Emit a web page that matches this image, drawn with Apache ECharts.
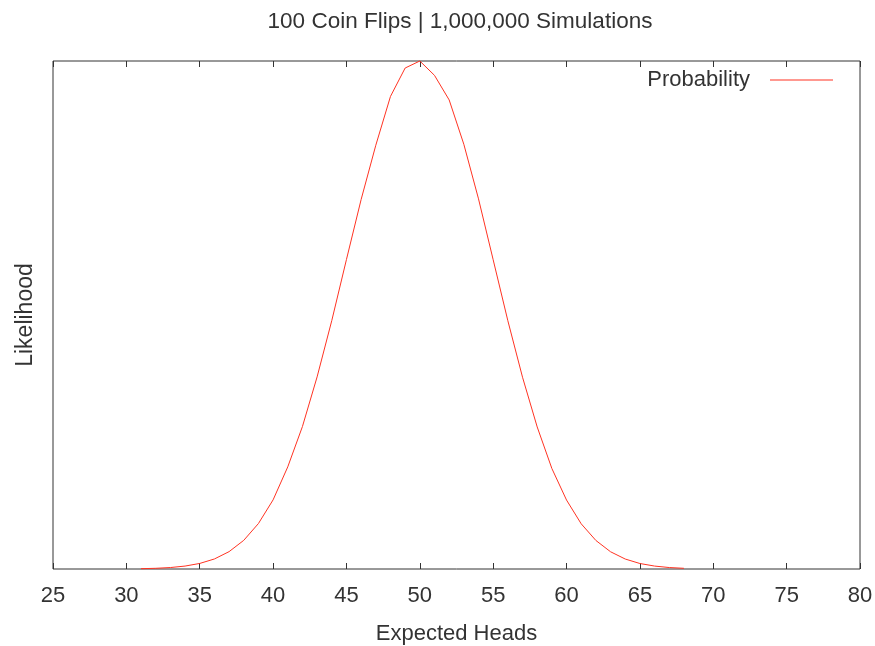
<!DOCTYPE html>
<html>
<head>
<meta charset="utf-8">
<script src="https://cdn.jsdelivr.net/npm/echarts@6/dist/echarts.min.js"></script>
<style>
  html, body { margin: 0; padding: 0; background: #fff; }
  #chart { width: 875px; height: 646px; }
</style>
</head>
<body>
<div id="chart"></div>
<script>
// number of heads out of 100 flips
const heads = [31, 32, 33, 34, 35, 36, 37, 38, 39, 40,
    41, 42, 43, 44, 45, 46, 47, 48, 49, 50,
    51, 52, 53, 54, 55, 56, 57, 58, 59, 60,
    61, 62, 63, 64, 65, 66, 67, 68];
// share of the 1,000,000 simulations
const likelihood = [0.00005, 0.00011, 0.00023, 0.00046, 0.00087, 0.00157, 0.00272, 0.00449, 0.00712, 0.01083,
    0.01600, 0.02232, 0.03010, 0.03893, 0.04850, 0.05790, 0.06640, 0.07405, 0.07850, 0.07960,
    0.07735, 0.07350, 0.06655, 0.05800, 0.04845, 0.03890, 0.03005, 0.02226, 0.01575, 0.01080,
    0.00708, 0.00447, 0.00270, 0.00156, 0.00086, 0.00046, 0.00023, 0.00011];
const xTicks = [25, 80, 5]; // min, max, step

const font = 'Liberation Sans, Arial, sans-serif';
const ink = '#333';
const red = '#ff3322';

const chart = echarts.init(document.getElementById('chart'));
const points = heads.map((h, i) => [h, likelihood[i]]);

const option = {
    animation: false,
    title: {
        text: '100 Coin Flips | 1,000,000 Simulations',
        left: 455,
        textAlign: 'center',
        top: 5,
        textStyle: {fontFamily: font, fontSize: 22.5, fontWeight: 'normal', color: ink}
    },
    legend: {
        right: 37,
        top: 64,
        align: 'right',
        icon: 'rect',
        itemWidth: 63,
        itemHeight: 1,
        itemStyle: {color: red},
        textStyle: {fontFamily: font, fontSize: 22, color: ink, padding: [0, 15, 0, 0]},
        data: ['Probability']
    },
    grid: {
        left: 53, right: 15, top: 61, bottom: 77,
        outerBoundsMode: 'none',
        containLabel: false,
        show: true, borderColor: ink, borderWidth: 1
    },
    xAxis: [
        {
            type: 'value',
            min: xTicks[0], max: xTicks[1], interval: xTicks[2],
            name: 'Expected Heads',
            nameLocation: 'middle',
            nameGap: 54,
            nameTextStyle: {fontFamily: font, fontSize: 22, color: ink},
            axisLine: {show: false},
            axisTick: {show: true, inside: true, length: 6, lineStyle: {color: ink}},
            axisLabel: {margin: 16, fontFamily: font, fontSize: 22, color: ink},
            splitLine: {show: false}
        },
        {
            type: 'value',
            position: 'top',
            min: xTicks[0], max: xTicks[1], interval: xTicks[2],
            axisLine: {show: false},
            axisTick: {show: true, inside: true, length: 6, lineStyle: {color: ink}},
            axisLabel: {show: false},
            splitLine: {show: false}
        }
    ],
    yAxis: {
        type: 'value',
        min: 0,
        max: 0.0796,
        name: 'Likelihood',
        nameLocation: 'middle',
        nameGap: 16,
        nameTextStyle: {fontFamily: font, fontSize: 23, color: ink},
        axisLine: {show: false},
        axisTick: {show: false},
        axisLabel: {show: false},
        splitLine: {show: false}
    },
    series: [{
        name: 'Probability',
        type: 'line',
        data: points,
        showSymbol: false,
        clip: false,
        color: red,
        lineStyle: {width: 1, color: red}
    }]
};
chart.setOption(option);
</script>
</body>
</html>
